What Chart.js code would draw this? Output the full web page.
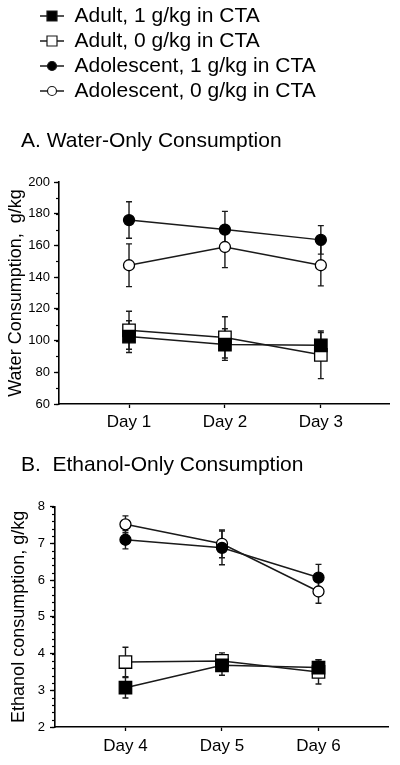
<!DOCTYPE html>
<html>
<head>
<meta charset="utf-8">
<script src="https://cdn.jsdelivr.net/npm/chart.js@4.4.1/dist/chart.umd.min.js"></script>
<style>
  html, body { margin: 0; padding: 0; background: #fff; }
  #wrap { position: relative; width: 400px; height: 765px; }
  #waterBox { position: absolute; left: 0; top: 0; width: 400px; height: 440px; }
  #ethanolBox { position: absolute; left: 0; top: 440px; width: 400px; height: 325px; }
</style>
</head>
<body>
<div id="wrap">
  <div id="waterBox"><canvas id="waterChart"></canvas></div>
  <div id="ethanolBox"><canvas id="ethanolChart"></canvas></div>
</div>
<script>
// DATA
const seriesNames = ['Adult, 1 g/kg in CTA', 'Adult, 0 g/kg in CTA', 'Adolescent, 1 g/kg in CTA', 'Adolescent, 0 g/kg in CTA'];

const waterDays = ['Day 1', 'Day 2', 'Day 3'];
const waterAdult1 = [102.5, 97.5, 97];
const waterAdult0 = [106.5, 102, 91];
const waterAdol1 = [176, 170, 163.5];
const waterAdol0 = [147.5, 159, 147.5];
const waterAdult1Err = [10, 10, 8];
const waterAdult0Err = [12, 13, 15];
const waterAdol1Err = [11.5, 11.5, 9];
const waterAdol0Err = [13.5, 13, 13];
const waterTicks = [60, 80, 100, 120, 140, 160, 180, 200];

const ethDays = ['Day 4', 'Day 5', 'Day 6'];
const ethAdult1 = [3.07, 3.68, 3.62];
const ethAdult0 = [3.77, 3.8, 3.5];
const ethAdol1 = [7.1, 6.88, 6.07];
const ethAdol0 = [7.52, 6.99, 5.69];
const ethAdult1Err = [0.28, 0.27, 0.21];
const ethAdult0Err = [0.4, 0.22, 0.33];
const ethAdol1Err = [0.25, 0.46, 0.36];
const ethAdol0Err = [0.23, 0.38, 0.32];
const ethTicks = [2, 3, 4, 5, 6, 7, 8];

Chart.defaults.font.family = "'Liberation Sans', Arial, sans-serif";
Chart.defaults.color = '#000';

const INK = '#1a1a1a';
const markers = [
  { style: 'rect', fill: '#000', radius: 8.8 },
  { style: 'rect', fill: '#fff', radius: 8.8 },
  { style: 'circle', fill: '#000', radius: 5.5 },
  { style: 'circle', fill: '#fff', radius: 5.5 }
];

// legend symbol: short line with the marker on it
function legendIcon(m) {
  const c = document.createElement('canvas');
  c.width = 39; c.height = 18;
  const g = c.getContext('2d');
  g.strokeStyle = INK; g.lineWidth = 1.5;
  g.beginPath(); g.moveTo(15, 9); g.lineTo(39, 9); g.stroke();
  g.fillStyle = m.fill; g.lineWidth = 1.2;
  g.beginPath();
  if (m.style === 'rect') g.rect(27 - 5, 9 - 5, 10, 10);
  else g.arc(27, 9, 4.5, 0, Math.PI * 2);
  g.fill(); g.stroke();
  return c;
}
const icons = markers.map(legendIcon);

// error bars, drawn under the lines and markers
const errorBars = {
  id: 'errorBars',
  beforeDatasetsDraw(chart) {
    const { ctx, scales: { x, y } } = chart;
    ctx.save();
    ctx.strokeStyle = INK;
    ctx.lineWidth = 1.4;
    chart.data.datasets.forEach(ds => {
      ds.data.forEach((p, j) => {
        const px = x.getPixelForValue(p.x);
        const top = y.getPixelForValue(p.y + ds.errors[j]);
        const bot = y.getPixelForValue(p.y - ds.errors[j]);
        ctx.beginPath();
        ctx.moveTo(px, top); ctx.lineTo(px, bot);
        ctx.moveTo(px - 3, top); ctx.lineTo(px + 3, top);
        ctx.moveTo(px - 3, bot); ctx.lineTo(px + 3, bot);
        ctx.stroke();
      });
    });
    ctx.restore();
  }
};

// minor ticks on the y axis
const minorTicks = {
  id: 'minorTicks',
  afterDraw(chart, args, opts) {
    const { ctx, scales: { y } } = chart;
    const step = opts.step;
    ctx.save();
    ctx.strokeStyle = '#000';
    ctx.lineWidth = 1.2;
    for (let v = y.min; v <= y.max + 1e-9; v += step) {
      const py = Math.round(y.getPixelForValue(v)) + 0.5;
      ctx.beginPath();
      ctx.moveTo(y.right - 3, py); ctx.lineTo(y.right, py);
      ctx.stroke();
    }
    ctx.restore();
  }
};

function makeChart(canvas, days, values, errors, ticks, opt) {
  return new Chart(canvas, {
    type: 'line',
    data: {
      datasets: values.map((vals, i) => ({
        label: seriesNames[i],
        data: vals.map((v, j) => ({ x: j + 1, y: v })),
        errors: errors[i],
        borderColor: INK,
        borderWidth: 1.5,
        pointStyle: markers[i].style,
        pointRadius: markers[i].radius,
        pointHoverRadius: markers[i].radius,
        pointBackgroundColor: markers[i].fill,
        pointBorderColor: '#000',
        pointBorderWidth: 1.3,
        tension: 0
      }))
    },
    options: {
      responsive: true,
      maintainAspectRatio: false,
      animation: false,
      devicePixelRatio: 1,
      events: [],
      layout: { padding: opt.padding },
      scales: {
        x: {
          type: 'linear',
          min: 0.27,
          max: 3.72,
          afterBuildTicks: s => { s.ticks = days.map((d, i) => ({ value: i + 1 })); },
          afterFit: s => { s.height = opt.xHeight; },
          ticks: {
            callback: v => days[v - 1],
            font: { size: 17 },
            color: '#000',
            padding: opt.xPad,
            maxRotation: 0
          },
          grid: { drawOnChartArea: false, tickLength: 4, tickColor: '#000', tickWidth: 1.3 },
          border: { color: '#000', width: 1.6 }
        },
        y: {
          min: ticks[0],
          max: ticks[ticks.length - 1],
          afterBuildTicks: s => { s.ticks = ticks.map(v => ({ value: v })); },
          afterFit: s => { s.width = opt.yWidth; },
          ticks: { font: { size: 13 }, color: '#000', padding: opt.yPad },
          grid: { drawOnChartArea: false, tickLength: 5, tickColor: '#000', tickWidth: 1.3 },
          border: { color: '#000', width: 1.6 },
          title: {
            display: true,
            text: opt.yTitle,
            font: { size: 18 },
            color: '#000',
            padding: { top: opt.yTitleOffset, bottom: 0 }
          }
        }
      },
      plugins: {
        legend: opt.legend ? {
          display: true,
          position: 'top',
          align: 'start',
          weight: 3000,
          labels: {
            usePointStyle: true,
            pointStyleWidth: 39,
            padding: 4,
            font: { size: 21 },
            color: '#000',
            generateLabels: chart => chart.data.datasets.map((ds, i) => ({
              text: ds.label, pointStyle: icons[i], fillStyle: '#000',
              strokeStyle: '#000', lineWidth: 0, hidden: false, datasetIndex: i
            }))
          }
        } : { display: false },
        title: {
          display: true,
          text: opt.title,
          align: 'start',
          color: '#000',
          font: { size: 21, weight: 'normal' },
          padding: opt.titlePad
        },
        tooltip: { enabled: false },
        minorTicks: { step: opt.minorStep }
      }
    },
    plugins: [errorBars, minorTicks]
  });
}

// CHARTS
makeChart(document.getElementById('waterChart'), waterDays,
  [waterAdult1, waterAdult0, waterAdol1, waterAdol0],
  [waterAdult1Err, waterAdult0Err, waterAdol1Err, waterAdol0Err],
  waterTicks, {
    padding: { left: 21, right: 8, top: 1.5, bottom: 0 },
    xHeight: 36, xPad: 4, yWidth: 38, yPad: 4,
    yTitle: 'Water Consumption,  g/kg', yTitleOffset: -15.8,
    legend: true,
    title: 'A. Water-Only Consumption',
    titlePad: { top: 17.4, bottom: 27.9 },
    minorStep: 10
  });

makeChart(document.getElementById('ethanolChart'), ethDays,
  [ethAdult1, ethAdult0, ethAdol1, ethAdol0],
  [ethAdult1Err, ethAdult0Err, ethAdol1Err, ethAdol0Err],
  ethTicks, {
    padding: { left: 21, right: 12, top: 0, bottom: 0 },
    xHeight: 38, xPad: 5, yWidth: 34, yPad: 5,
    yTitle: 'Ethanol consumption, g/kg', yTitleOffset: -12.8,
    legend: false,
    title: 'B.  Ethanol-Only Consumption',
    titlePad: { top: 12.9, bottom: 28.6 },
    minorStep: 0.2
  });
</script>
</body>
</html>
